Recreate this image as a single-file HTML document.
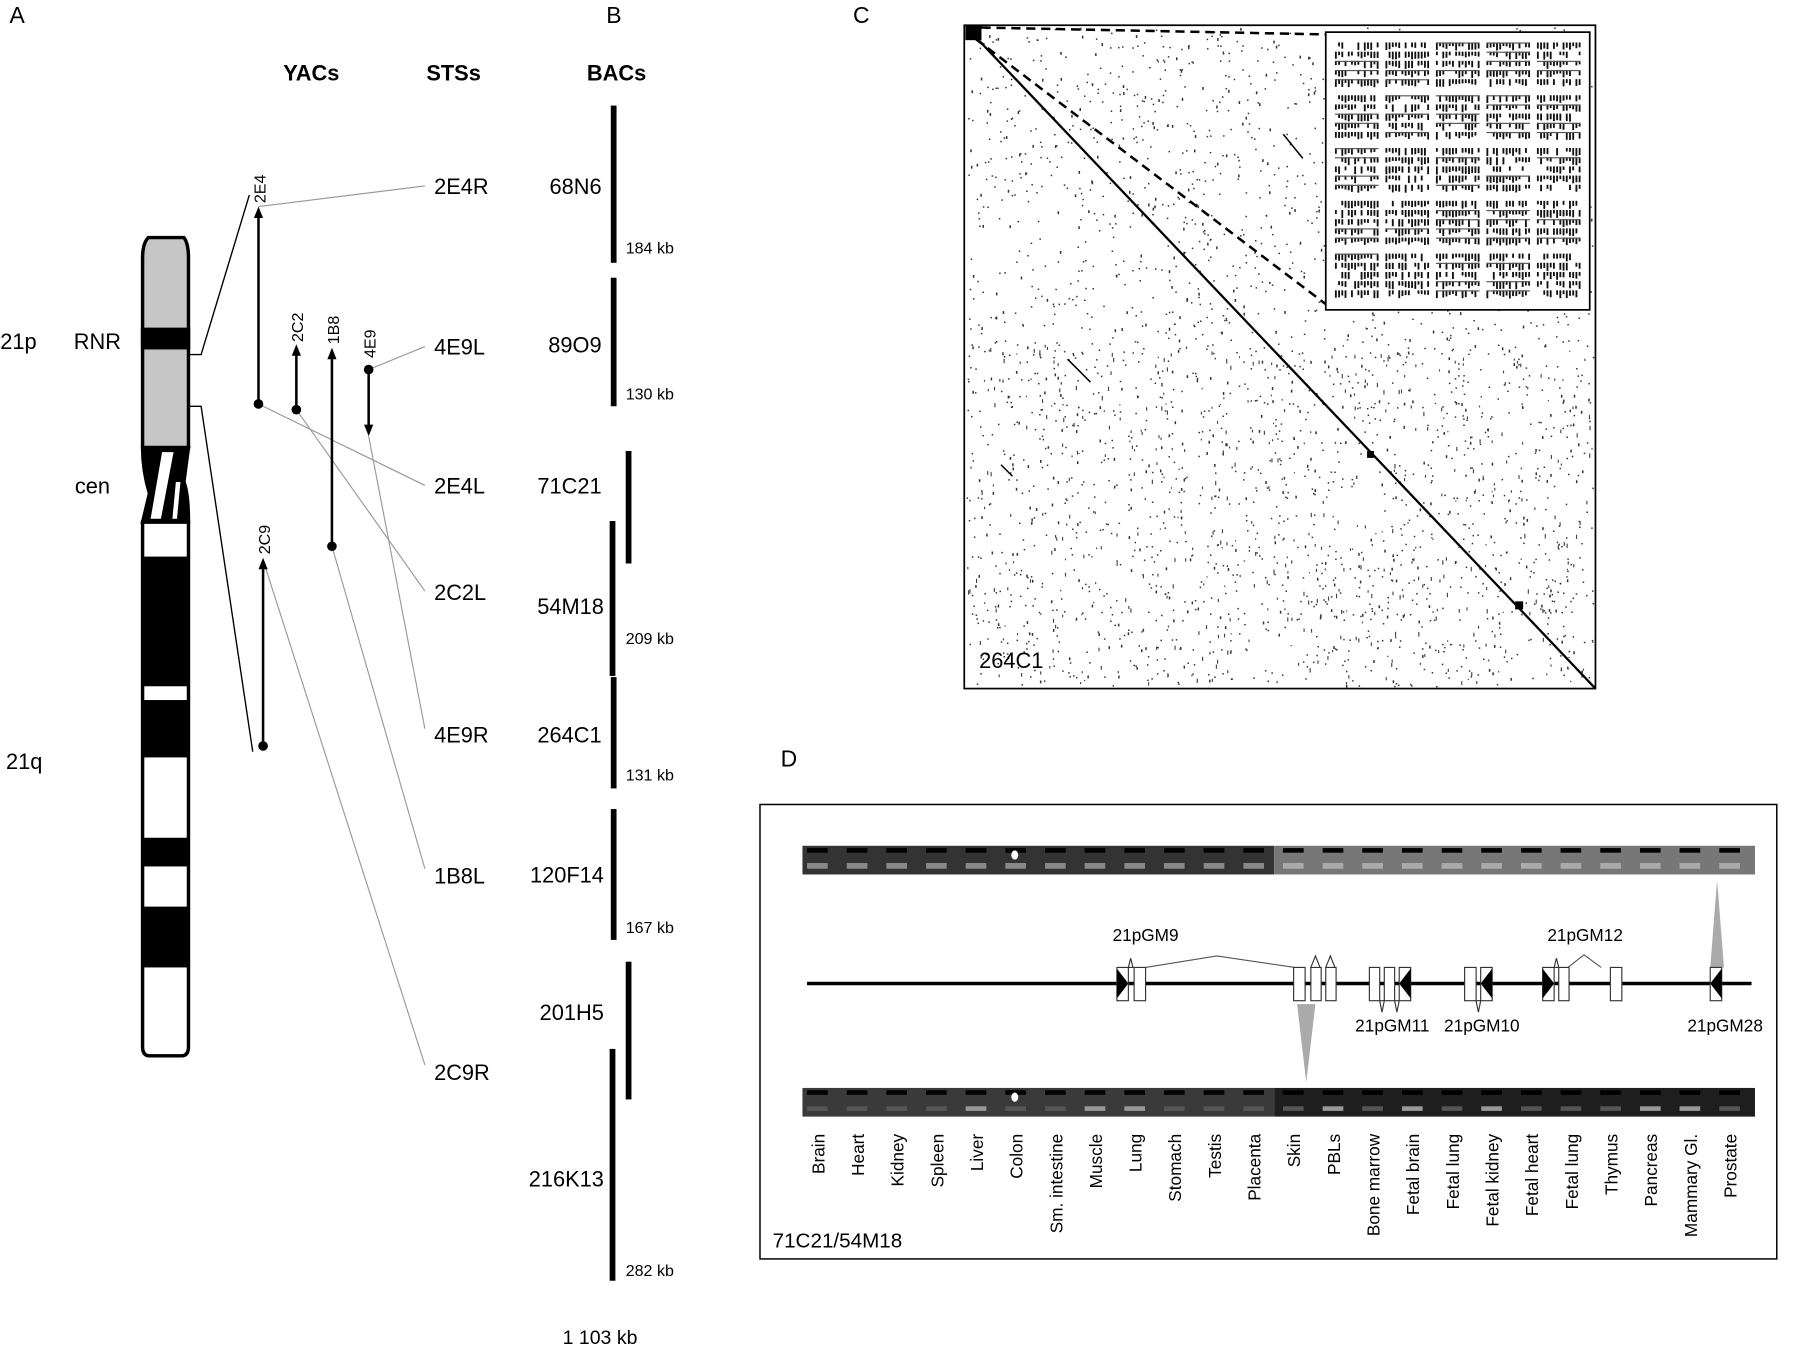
<!DOCTYPE html>
<html><head><meta charset="utf-8"><style>
html,body{margin:0;padding:0;background:#fff}
svg{display:block}
text{font-family:"Liberation Sans",sans-serif;fill:#000}
</style></head><body>
<svg id="s" width="1800" height="1345" viewBox="0 0 1568 1172" xmlns="http://www.w3.org/2000/svg">
<g font-size="20">
<text x="8" y="20">A</text><text x="528" y="20">B</text><text x="743" y="20">C</text><text x="680" y="668">D</text>
</g>
<g font-size="19" font-weight="bold" text-anchor="middle">
<text x="271" y="70">YACs</text><text x="395" y="70">STSs</text><text x="537" y="70">BACs</text>
</g>
<g font-size="19">
<text x="0" y="304">21p</text><text x="64" y="304">RNR</text><text x="65" y="430">cen</text><text x="5" y="670">21q</text>
</g>
<!-- chromosome -->
<g stroke="#000" stroke-width="3">
<path d="M129,207 L160,207 Q164,212 164,225 L164,390 L124,390 L124,225 Q124,212 129,207 Z" fill="#c6c6c6"/>
<rect x="124" y="287" width="40" height="16" fill="#000"/>
<path d="M124,390 L164,390 L160,420 Q164,430 164,455 L124,455 L130,430 Q124,410 124,390 Z" fill="#000"/>
<path d="M124,455 L164,455 L164,912 Q164,920 158,920 L130,920 Q124,920 124,912 Z" fill="#fff"/>
</g>
<path d="M141,394 L151,394 L140,452 L131,452 Z" fill="#fff"/>
<path d="M153,420 L157,420 L154,452 L150,452 Z" fill="#fff"/>
<g fill="#000">
<rect x="124" y="485" width="40" height="113"/><rect x="124" y="610" width="40" height="50"/>
<rect x="124" y="730" width="40" height="25"/><rect x="124" y="790" width="40" height="53"/>
</g>
<g stroke="#000" stroke-width="1.2" fill="none">
<polyline points="164,309 175,309 217,170"/>
<polyline points="164,354 175,354 220,655"/>
</g>
<g stroke="#999" stroke-width="1" fill="none">
<line x1="225" y1="180" x2="370" y2="162"/><line x1="321" y1="322" x2="370" y2="302"/>
<line x1="225" y1="352" x2="370" y2="423"/><line x1="258" y1="357" x2="370" y2="515"/>
<line x1="321" y1="380" x2="370" y2="635"/><line x1="289" y1="476" x2="370" y2="757"/>
<line x1="229" y1="488" x2="370" y2="928"/>
</g>
<g stroke="#000" stroke-width="2.2">
<line x1="225" y1="352" x2="225" y2="188"/>
<line x1="258" y1="357" x2="258" y2="308"/>
<line x1="289" y1="476" x2="289" y2="311"/>
<line x1="321" y1="322" x2="321" y2="372"/>
<line x1="229" y1="650" x2="229" y2="494"/>
</g>
<g fill="#000">
<polygon points="225,180 221,190 229,190"/><polygon points="258,300 254,310 262,310"/>
<polygon points="289,303 285,313 293,313"/><polygon points="321,380 317,370 325,370"/>
<polygon points="229,486 225,496 233,496"/>
<circle cx="225" cy="352" r="4.2"/><circle cx="258" cy="357" r="4.2"/><circle cx="289" cy="476" r="4.2"/><circle cx="321" cy="322" r="4.2"/><circle cx="229" cy="650" r="4.2"/></g>
<g font-size="14">
<text transform="translate(231,177) rotate(-90)">2E4</text>
<text transform="translate(264,298) rotate(-90)">2C2</text>
<text transform="translate(295,300) rotate(-90)">1B8</text>
<text transform="translate(327,312) rotate(-90)">4E9</text>
<text transform="translate(235,483) rotate(-90)">2C9</text>
</g>
<g font-size="19">
<text x="378" y="169">2E4R</text><text x="378" y="309">4E9L</text><text x="378" y="430">2E4L</text>
<text x="378" y="523">2C2L</text><text x="378" y="647">4E9R</text><text x="378" y="770">1B8L</text><text x="378" y="941">2C9R</text>
</g>
<g fill="#000">
<rect x="532" y="92" width="5" height="137"/><rect x="532" y="242" width="5" height="112"/>
<rect x="545" y="393" width="5" height="98"/><rect x="531" y="454" width="5" height="135"/>
<rect x="532" y="590" width="5" height="97"/><rect x="532" y="705" width="5" height="114"/>
<rect x="545" y="838" width="5" height="120"/><rect x="531" y="914" width="5" height="202"/>
</g>
<g font-size="19" text-anchor="end">
<text x="524" y="169">68N6</text><text x="524" y="307">89O9</text><text x="524" y="430">71C21</text>
<text x="526" y="535">54M18</text><text x="524" y="647">264C1</text><text x="526" y="769">120F14</text>
<text x="526" y="889">201H5</text><text x="526" y="1034">216K13</text>
</g>
<g font-size="14">
<text x="545" y="221">184 kb</text><text x="545" y="348">130 kb</text><text x="545" y="561">209 kb</text>
<text x="545" y="680">131 kb</text><text x="545" y="813">167 kb</text><text x="545" y="1112">282 kb</text>
</g>
<text x="490" y="1171" font-size="17">1 103 kb</text>
<!-- Panel C -->
<g id="dots"></g>
<rect x="840" y="22" width="550" height="578" fill="none" stroke="#000" stroke-width="1.5"/>
<line x1="843" y1="25" x2="1390" y2="600" stroke="#000" stroke-width="2"/>
<rect x="841" y="22" width="14" height="13" fill="#000"/>
<rect x="1191" y="393" width="6" height="6" fill="#000"/><rect x="1320" y="524" width="7" height="7" fill="#000"/>
<line x1="1118" y1="117" x2="1135" y2="138" stroke="#000" stroke-width="1.3"/>
<line x1="930" y1="313" x2="950" y2="333" stroke="#000" stroke-width="1.3"/>
<line x1="872" y1="405" x2="882" y2="415" stroke="#000" stroke-width="1.3"/>
<line x1="855" y1="24" x2="1155" y2="30" stroke="#000" stroke-width="2.2" stroke-dasharray="8,5"/>
<line x1="850" y1="34" x2="1155" y2="265" stroke="#000" stroke-width="2.2" stroke-dasharray="8,5"/>
<rect x="1155" y="28" width="230" height="242" fill="#fff" stroke="#000" stroke-width="1.5"/>
<g id="inset"></g>
<text x="853" y="582" font-size="19">264C1</text>
<!-- Panel D -->
<rect x="662" y="701" width="886" height="396" fill="none" stroke="#000" stroke-width="1.3"/>
<rect x="699" y="737" width="411" height="25" fill="#333"/><rect x="1110" y="737" width="419" height="25" fill="#777"/>
<rect x="699" y="948" width="411" height="25" fill="#3a3a3a"/><rect x="1110" y="948" width="419" height="25" fill="#1e1e1e"/>
<g id="bands"></g>
<ellipse cx="884" cy="745" rx="3" ry="4" fill="#fff"/><ellipse cx="884" cy="956" rx="3" ry="4" fill="#fff"/>
<line x1="703" y1="857" x2="1526" y2="857" stroke="#000" stroke-width="3"/>
<polygon points="1130,875 1146,875 1138,943" fill="#aaa"/>
<polygon points="1496,767 1490,843 1502,843" fill="#aaa"/>
<g stroke="#555" stroke-width="1" fill="none">
<polyline points="998,843 1060,833 1128,843"/><polyline points="1366,843 1380,832 1395,843"/>
</g>
<g fill="#fff" stroke="#333" stroke-width="1">
<rect x="973" y="843" width="10" height="29"/><rect x="988" y="843" width="10" height="29"/>
<rect x="1127" y="843" width="10" height="29"/><rect x="1142" y="843" width="9" height="29"/><rect x="1155" y="843" width="9" height="29"/>
<rect x="1193" y="843" width="9" height="29"/><rect x="1206" y="843" width="9" height="29"/><rect x="1219" y="843" width="10" height="29"/>
<rect x="1276" y="843" width="10" height="29"/><rect x="1290" y="843" width="10" height="29"/>
<rect x="1344" y="843" width="10" height="29"/><rect x="1358" y="843" width="9" height="29"/><rect x="1403" y="843" width="10" height="29"/>
<rect x="1490" y="843" width="10" height="29"/>
<path d="M983,843 l2,-8 l2,8 Z M1142,843 l4,-10 l4,10 Z M1155,843 l4,-10 l4,10 Z M1354,843 l2,-8 l2,8 Z M1202,872 l2,10 l2,-10 Z M1215,872 l2,10 l2,-10 Z M1286,872 l2,10 l2,-10 Z"/>
</g>
<g fill="#000">
<polygon points="973,844 983,857 973,870"/><polygon points="1229,844 1219,857 1229,870"/>
<polygon points="1300,844 1290,857 1300,870"/><polygon points="1344,844 1354,857 1344,870"/>
<polygon points="1500,844 1490,857 1500,870"/>
</g>
<g font-size="15" text-anchor="middle">
<text x="998" y="820">21pGM9</text><text x="1381" y="820">21pGM12</text>
<text x="1213" y="899">21pGM11</text><text x="1291" y="899">21pGM10</text><text x="1503" y="899">21pGM28</text>
</g>
<g id="tissues" font-size="15"></g>
<text x="673" y="1087" font-size="18">71C21/54M18</text>
</svg>
<script>
var seed=12345;function r(){seed=(seed*16807)%2147483647;return seed/2147483647;}
var h="";
for(var i=0;i<2600;i++){var x=842+r()*546,y=24+r()*574;h+='<rect x="'+x.toFixed(1)+'" y="'+y.toFixed(1)+'" width="1.3" height="'+(r()<0.2?2.5:1.3)+'" fill="#333"/>';}
for(var i=0;i<500;i++){var x=842+r()*546,y=300+r()*295;h+='<rect x="'+x.toFixed(1)+'" y="'+y.toFixed(1)+'" width="1" height="'+(1+r()*3).toFixed(1)+'" fill="#444"/>';}
document.getElementById("dots").innerHTML=h;
h="";
for(var bx=0;bx<5;bx++)for(var by=0;by<5;by++){var x0=1163+bx*44,y0=37+by*46;
 for(var row=0;row<5;row++){var yy=y0+row*8;
  for(var k=0;k<14;k++){var x=x0+k*2.8;if(r()<0.75)h+='<rect x="'+x.toFixed(1)+'" y="'+yy+'" width="1.6" height="'+(3+r()*4).toFixed(1)+'" fill="#111"/>';}
  if(r()<0.5)h+='<rect x="'+x0+'" y="'+yy+'" width="38" height="1" fill="#555"/>';}}
document.getElementById("inset").innerHTML=h;
var names=["Brain","Heart","Kidney","Spleen","Liver","Colon","Sm. intestine","Muscle","Lung","Stomach","Testis","Placenta","Skin","PBLs","Bone marrow","Fetal brain","Fetal lung","Fetal kidney","Fetal heart","Fetal lung","Thymus","Pancreas","Mammary Gl.","Prostate"];
h="";var bh="";
for(var i=0;i<24;i++){var x=712+i*34.56;
 h+='<text transform="translate('+(x+6).toFixed(1)+',988) rotate(-90)" text-anchor="end">'+names[i]+'</text>';
 bh+='<rect x="'+(x-9).toFixed(1)+'" y="739" width="18" height="4" fill="#000"/>';
 bh+='<rect x="'+(x-9).toFixed(1)+'" y="752" width="18" height="5" fill="'+(i<12?"#888":"#aaa")+'"/>';
 bh+='<rect x="'+(x-9).toFixed(1)+'" y="950" width="18" height="4" fill="#000"/>';
 var c=[4,7,8,13,15,17,21,22].indexOf(i)>=0?"#999":"#555";
 bh+='<rect x="'+(x-9).toFixed(1)+'" y="964" width="18" height="4" fill="'+c+'"/>';}
document.getElementById("tissues").innerHTML=h;document.getElementById("bands").innerHTML=bh;
</script>
</body></html>
